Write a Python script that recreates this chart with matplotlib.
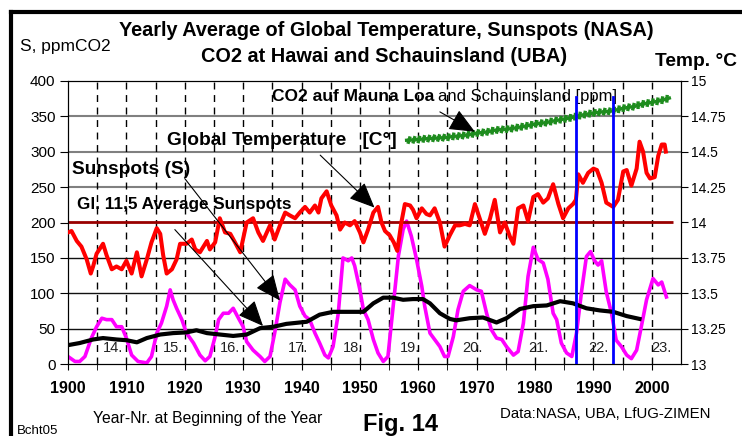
import matplotlib.pyplot as plt
import matplotlib.patheffects as pe
from matplotlib.lines import Line2D

plt.rcParams['font.family'] = ['Liberation Sans', 'DejaVu Sans']

# global temperature (deg C)
temp_years = [1900.0, 1900.6, 1901.5, 1902.3, 1903.2, 1903.9, 1904.3, 1904.9, 1906.0, 1906.6,
              1907.5, 1908.3, 1909.2, 1910.0, 1910.9, 1911.8, 1912.6, 1913.5, 1914.3, 1915.2,
              1915.8, 1916.3, 1916.9, 1917.8, 1918.6, 1919.2, 1920.3, 1921.2, 1921.8, 1922.6,
              1923.8, 1924.3, 1925.2, 1926.0, 1926.9, 1927.8, 1928.6, 1929.5, 1930.6, 1931.7,
              1932.6, 1933.4, 1934.6, 1935.4, 1936.3, 1937.2, 1938.0, 1938.9, 1939.7, 1940.6,
              1941.4, 1942.3, 1942.9, 1943.4, 1944.3, 1945.1, 1946.0, 1946.6, 1947.4, 1948.3,
              1949.1, 1950.0, 1950.6, 1951.4, 1952.3, 1953.1, 1953.7, 1954.3, 1955.1, 1955.8,
              1956.4, 1957.1, 1957.7, 1958.6, 1959.1, 1959.7, 1960.6, 1961.4, 1962.0, 1962.8,
              1963.7, 1964.5, 1965.4, 1966.3, 1967.1, 1968.0, 1968.8, 1969.7, 1970.5, 1971.4,
              1972.3, 1973.1, 1974.0, 1974.8, 1975.7, 1976.3, 1977.1, 1978.0, 1978.8, 1979.7,
              1980.5, 1981.4, 1982.2, 1983.1, 1984.0, 1984.8, 1985.7, 1986.5, 1987.0, 1987.4,
              1988.2, 1989.1, 1990.0, 1990.6, 1991.4, 1992.2, 1993.4, 1994.2, 1995.1, 1995.7,
              1996.5, 1997.4, 1997.9, 1998.5, 1999.1, 1999.7, 2000.5, 2001.1, 2001.7, 2002.2,
              2002.4]
temp_c = [13.93, 13.94, 13.87, 13.83, 13.74, 13.64, 13.69, 13.78, 13.85, 13.77,
          13.67, 13.69, 13.67, 13.73, 13.64, 13.79, 13.62, 13.74, 13.86, 13.96,
          13.92, 13.77, 13.64, 13.67, 13.74, 13.85, 13.85, 13.88, 13.81, 13.79,
          13.87, 13.81, 13.86, 14.03, 13.93, 13.92, 13.86, 13.79, 14.00, 14.03,
          13.93, 13.87, 13.98, 13.88, 13.98, 14.07, 14.05, 14.03, 14.07, 14.11,
          14.07, 14.12, 14.07, 14.17, 14.22, 14.12, 14.05, 13.95, 14.00, 13.98,
          14.01, 13.93, 13.86, 13.95, 14.07, 14.11, 14.00, 13.94, 13.91, 13.86,
          13.80, 14.00, 14.13, 14.12, 14.09, 14.03, 14.10, 14.06, 14.05, 14.10,
          14.00, 13.83, 13.91, 13.98, 13.98, 13.99, 13.98, 14.13, 14.03, 13.92,
          14.03, 14.16, 13.93, 14.00, 13.90, 13.85, 14.10, 14.12, 14.01, 14.18,
          14.20, 14.14, 14.17, 14.27, 14.13, 14.03, 14.10, 14.13, 14.16, 14.34,
          14.28, 14.35, 14.38, 14.37, 14.28, 14.14, 14.11, 14.16, 14.36, 14.37,
          14.26, 14.38, 14.57, 14.50, 14.35, 14.31, 14.32, 14.47, 14.55, 14.55,
          14.50]

# sunspot numbers (magenta)
spot_years = [1900.0, 1901.2, 1902.0, 1902.9, 1904.0, 1904.9, 1905.8, 1906.6, 1907.5, 1908.3,
              1909.2, 1910.0, 1910.9, 1912.0, 1913.5, 1914.3, 1915.2, 1916.0, 1916.9, 1917.5,
              1918.0, 1918.6, 1919.5, 1920.3, 1921.5, 1922.6, 1923.5, 1924.3, 1925.2, 1925.8,
              1926.6, 1927.5, 1928.3, 1929.2, 1930.0, 1930.6, 1931.7, 1932.9, 1933.7, 1934.6,
              1935.4, 1936.3, 1937.2, 1938.0, 1938.9, 1939.7, 1940.6, 1941.4, 1942.3, 1943.1,
              1944.0, 1944.6, 1945.4, 1946.3, 1947.1, 1948.0, 1948.6, 1949.1, 1950.0, 1950.6,
              1951.4, 1952.3, 1953.1, 1954.0, 1954.8, 1955.7, 1956.6, 1957.4, 1958.0, 1958.8,
              1959.7, 1960.6, 1961.1, 1962.0, 1962.8, 1963.7, 1964.5, 1965.1, 1966.0, 1966.8,
              1967.7, 1968.8, 1970.0, 1970.8, 1971.7, 1972.5, 1973.4, 1974.3, 1975.1, 1976.3,
              1977.1, 1978.0, 1978.8, 1979.7, 1980.5, 1981.4, 1982.2, 1983.1, 1983.7, 1984.5,
              1985.4, 1986.3, 1987.1, 1988.0, 1988.8, 1989.5, 1990.2, 1990.8, 1991.4, 1992.2,
              1993.1, 1993.9, 1994.8, 1995.7, 1996.5, 1997.4, 1998.2, 1999.1, 2000.2, 2001.1,
              2001.7, 2002.5]
spot_values = [11, 4, 4, 11, 37, 53, 65, 63, 63, 53,
               53, 37, 13, 4, 2, 11, 44, 58, 82, 105,
               91, 79, 63, 44, 30, 13, 5, 11, 39, 63,
               72, 72, 79, 65, 53, 32, 20, 11, 4, 11,
               44, 87, 120, 112, 105, 82, 68, 63, 44, 30,
               13, 9, 25, 72, 150, 146, 150, 139, 105, 77,
               63, 35, 16, 4, 11, 82, 153, 190, 202, 181,
               148, 110, 82, 44, 35, 25, 11, 11, 39, 77,
               103, 111, 105, 103, 72, 49, 37, 35, 25, 13,
               18, 58, 124, 165, 148, 143, 120, 72, 63, 30,
               16, 11, 44, 105, 152, 159, 146, 140, 146, 102,
               72, 34, 25, 13, 8, 20, 53, 91, 121, 112,
               116, 95]

# 11.5 year average of the sunspots (black)
avg_years = [1900.0, 1902.0, 1904.3, 1906.0, 1908.3, 1910.0, 1911.8, 1913.5, 1915.8, 1918.0,
             1920.3, 1922.0, 1923.8, 1926.0, 1928.3, 1930.6, 1932.9, 1935.2, 1937.4, 1940.9,
             1943.1, 1945.4, 1948.3, 1950.6, 1952.3, 1954.0, 1955.7, 1957.4, 1959.1, 1960.8,
             1962.0, 1963.7, 1965.4, 1966.5, 1968.8, 1971.1, 1973.4, 1975.1, 1977.4, 1979.7,
             1982.0, 1984.3, 1986.5, 1988.8, 1991.1, 1993.4, 1995.7, 1997.9]
avg_values = [27, 30, 35, 37, 35, 34, 31, 37, 42, 44,
              45, 48, 44, 42, 40, 42, 51, 53, 57, 60,
              70, 74, 74, 74, 86, 94, 94, 91, 92, 92,
              86, 72, 64, 62, 65, 66, 59, 65, 78, 82,
              83, 89, 86, 79, 76, 74, 68, 64]

# CO2 (ppm), Mauna Loa / Schauinsland
co2_years = list(range(1958, 2004))
co2_values = [316, 316.5, 317, 318, 318.5, 319, 319.5, 320, 321.5, 322,
              323, 324.5, 326, 327, 328, 330, 331, 331.5, 332.5, 334,
              335.5, 337, 339, 340, 341, 343, 344.5, 346, 347.5, 349.5,
              351.5, 353, 354.5, 355.5, 356.5, 357, 359, 361, 362.5, 363.5,
              366.5, 368, 369.5, 371, 373, 375.5]

cycle_labels = ['14.', '15.', '16.', '17.', '18.', '19.', '20.', '21.', '22.', '23.']
cycle_x = [1907.7, 1918.0, 1927.7, 1939.4, 1948.8, 1958.6, 1969.3, 1980.5, 1990.8, 2001.7]
marker_years = [1987.0, 1993.4]

W, H = 742, 436
fig = plt.figure(figsize=(W / 100, H / 100), dpi=100)
ax = fig.add_axes([68 / W, 1 - 364.3 / H, (681 - 68) / W, (364.3 - 80.7) / H])
ax2 = ax.twinx()

ax.set_xlim(1900, 2005)
ax.set_ylim(0, 400)
ax2.set_ylim(13, 15)

# grid
for v in [50, 100, 150]:
    ax.axhline(v, color='#111111', lw=1, zorder=1)
for v in [250, 300, 350]:
    ax.axhline(v, color='#808080', lw=1.5, zorder=1)
for yr in range(1905, 2001, 5):
    ax.axvline(yr, color='black', lw=1, dashes=(5, 4), zorder=1)

ax.plot(spot_years, spot_values, color='#ff00ff', lw=2.6, zorder=3)
ax.plot(avg_years, avg_values, color='black', lw=3, zorder=4)
ax.plot(co2_years, co2_values, color='#1e8c1e', lw=2.4, zorder=3,
        path_effects=[pe.TickedStroke(angle=70, spacing=3.5, length=0.45),
                      pe.TickedStroke(angle=-110, spacing=3.5, length=0.45),
                      pe.Normal()])

ax2.hlines(14, 1900, 2003.7, color='#990000', lw=2, zorder=2)
ax2.plot(temp_years, temp_c, color='#ff0000', lw=2.9, zorder=3)
for yr in marker_years:
    ax2.axvline(yr, ymin=0, ymax=377 / 400, color='#0000ff', lw=2, zorder=4)

# ticks
ax.set_yticks(range(0, 401, 50))
ax.set_xticks(range(1900, 2001, 10))
ax.set_xticks(range(1905, 2001, 10), minor=True)
ax.tick_params(axis='y', direction='out', length=6, labelsize=11, pad=3)
ax.tick_params(axis='x', which='both', direction='out', length=4, labelsize=11.5, pad=8)
for lbl in ax.get_xticklabels():
    lbl.set_fontweight('bold')
ax2.set_yticks([13, 13.25, 13.5, 13.75, 14, 14.25, 14.5, 14.75, 15])
ax2.set_yticklabels(['13', '13.25', '13.5', '13.75', '14', '14.25', '14.5', '14.75', '15'])
ax2.tick_params(axis='y', direction='out', length=5, labelsize=10, pad=2)

# labels inside the chart
t = ax.transData
co2_lbl = ax2.text(1934.9, 378, 'CO2 auf Mauna Loa', transform=t, fontsize=12.5,
                   fontweight='bold', va='center', ha='left')
ax2.annotate('and Schauinsland [ppm]', xy=(1, 0.5), xycoords=co2_lbl, xytext=(3, 0),
             textcoords='offset points', fontsize=12, va='center', ha='left')
ax2.text(1917.0, 316, 'Global Temperature   [C°]', transform=t, fontsize=13.8,
         fontweight='bold', va='center', ha='left')
ax2.text(1900.7, 275, 'Sunspots (S)', transform=t, fontsize=13.8, fontweight='bold',
         va='center', ha='left')
ax2.text(1901.5, 226, 'Gl. 11,5 Average Sunspots', transform=t, fontsize=12.3,
         fontweight='bold', va='center', ha='left')
for lab, xc in zip(cycle_labels, cycle_x):
    ax2.text(xc, 23, lab, transform=t, fontsize=10.5, color='#222222', ha='center', va='center')

arrow = dict(arrowstyle='-|>,head_length=0.8,head_width=0.35', color='black', lw=0.8,
             mutation_scale=20, shrinkA=0, shrinkB=0)
ax2.annotate('', xy=(1969.7, 328), xytext=(1963.7, 356), xycoords=t, textcoords=t, arrowprops=arrow)
ax2.annotate('', xy=(1952.5, 221), xytext=(1943.2, 295), xycoords=t, textcoords=t, arrowprops=arrow)
ax2.annotate('', xy=(1936.3, 90), xytext=(1920.0, 262), xycoords=t, textcoords=t, arrowprops=arrow)
ax2.annotate('', xy=(1933.4, 54), xytext=(1918.3, 190), xycoords=t, textcoords=t, arrowprops=arrow)

# texts around the chart
def ftext(x, y, s, **kw):
    fig.text(x / W, 1 - y / H, s, va='center', **kw)

ftext(386, 30, 'Yearly Average of Global Temperature, Sunspots (NASA)', fontsize=14.3,
      fontweight='bold', ha='center')
ftext(384, 56, 'CO2 at Hawai and Schauinsland (UBA)', fontsize=14.3, fontweight='bold', ha='center')
ftext(20, 47, 'S, ppmCO2', fontsize=12.5, ha='left')
ftext(655, 62, 'Temp. °C', fontsize=13.8, fontweight='bold', ha='left')
ftext(93, 418, 'Year-Nr. at Beginning of the Year', fontsize=11.3, ha='left')
ftext(363, 424, 'Fig. 14', fontsize=17, fontweight='bold', ha='left')
ftext(500, 414, 'Data:NASA, UBA, LfUG-ZIMEN', fontsize=10.8, ha='left')
ftext(17, 431, 'Bcht05', fontsize=9.5, ha='left')

# outer frame
fig.add_artist(Line2D([11 / W, 11 / W], [0, 1 - 12 / H], transform=fig.transFigure, color='black', lw=3))
fig.add_artist(Line2D([11 / W, 1], [1 - 12 / H, 1 - 12 / H], transform=fig.transFigure, color='black', lw=3))

fig.savefig('out.png', dpi=100)
